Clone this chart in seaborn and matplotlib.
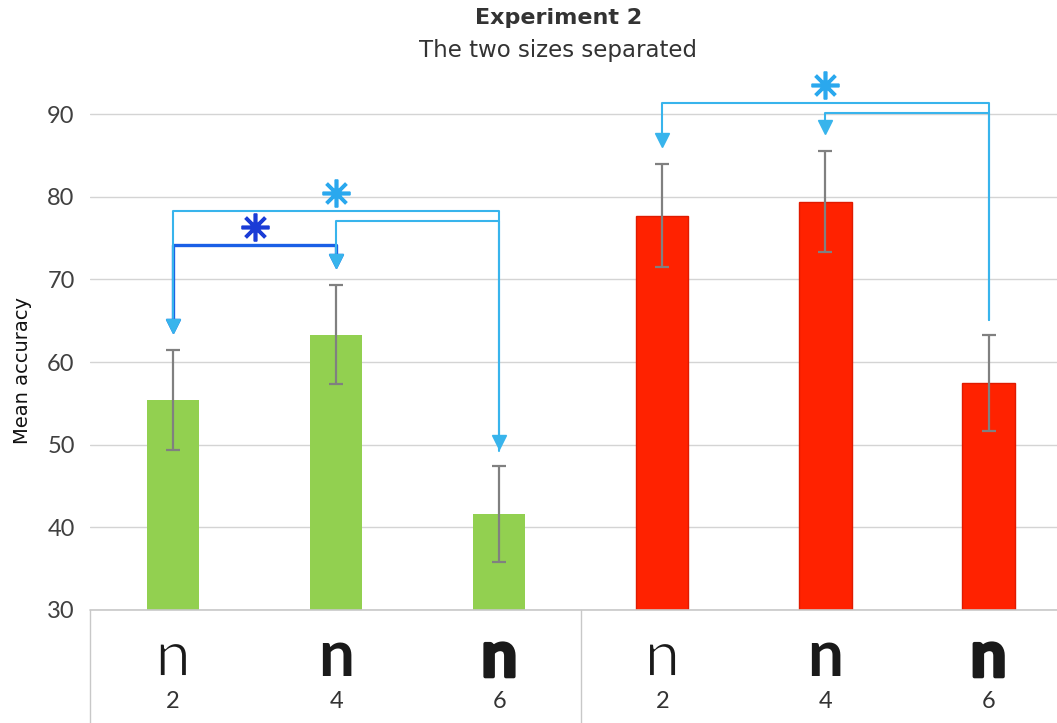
import numpy as np
import pandas as pd
import matplotlib
matplotlib.use("Agg")
import matplotlib.pyplot as plt
import matplotlib.transforms as mtransforms
import matplotlib.patheffects as pe
import seaborn as sns

# values
groups = ['green', 'green', 'green', 'red', 'red', 'red']
sizes = ['2', '4', '6', '2', '4', '6']
bar_keys = ['g2', 'g4', 'g6', 'r2', 'r4', 'r6']
mean_acc = [55.4, 63.3, 41.6, 77.7, 79.4, 57.5]
err_acc = [6.0, 6.0, 5.8, 6.2, 6.1, 5.8]
yticks = [30, 40, 50, 60, 70, 80, 90]
n_weights = ['normal', 'bold', 'bold', 'normal', 'bold', 'bold']
# >0 thickens the glyph, <0 thins it
n_stroke = [-1.4, 0, 2.6, -1.4, 0, 2.6]

# significance brackets: (from bar, to bar, line height, colour key, arrow at 'from', arrow at 'to')
brackets = [
    (0, 1, 74.2, 'dark', True, True),
    (0, 2, 78.3, 'light', True, True),
    (1, 2, 77.1, 'light', True, False),
    (3, 5, 91.3, 'light', True, False),
    (4, 5, 90.1, 'light', True, False),
]
# asterisks: (x position in bar units, height, colour key)
stars = [(0.5, 76.3, 'dark'), (1.0, 80.4, 'light'), (4.0, 93.5, 'light')]

palette = {'green': '#92d050', 'red': '#ff2200'}
line_col = {'dark': '#1a5fe6', 'light': '#38b4ec'}
star_col = {'dark': '#1a3cd6', 'light': '#2aa8ee'}

df = pd.DataFrame({'bar': bar_keys, 'group': groups, 'acc': mean_acc})

sns.set_theme(style='white')
plt.rcParams['font.family'] = ['DejaVu Sans']

fig = plt.figure(figsize=(10.57, 7.23), dpi=100)
ax = fig.add_axes([90 / 1057, 1 - 610 / 723, 1 - 90 / 1057, (610 - 72.7) / 723])

sns.barplot(data=df, x='bar', y='acc', hue='group', palette=palette, order=bar_keys,
            width=0.32, dodge=False, legend=False, ax=ax, linewidth=0, saturation=1)
for patch, g in zip(ax.patches, groups):
    if g == 'red':
        patch.set_edgecolor('#e01a00')
        patch.set_linewidth(1)

xpos = np.arange(len(bar_keys))
ax.errorbar(xpos, mean_acc, yerr=err_acc, fmt='none', ecolor='#808080',
            elinewidth=1.6, capsize=5, capthick=1.6, zorder=3)

ax.set_xlim(-0.51, 5.42)
ax.set_ylim(30, 95)
ax.set_yticks(yticks)
ax.set_yticklabels([str(t) for t in yticks], fontsize=17, color='#404040', family='Lato')
ax.tick_params(axis='y', length=0, pad=11)
ax.grid(axis='y', color='#d4d4d4', lw=1)
ax.set_axisbelow(True)
ax.set_xticks([])
ax.set_xlabel('')
ax.set_ylabel('')
for s in ax.spines.values():
    s.set_visible(False)

# brackets with arrows
tips = [m + e + 2.0 for m, e in zip(mean_acc, err_acc)]
for a, b, h, c, arr_a, arr_b in brackets:
    col = line_col[c]
    lw = 2.4 if c == 'dark' else 1.5
    end_a = tips[a] + 0.6 if arr_a else tips[a]
    end_b = tips[b] + 0.6 if arr_b else tips[b] - 0.2
    ax.plot([a, a, b, b], [end_a, h, h, end_b], color=col, lw=lw, zorder=4,
            solid_joinstyle='round')
    if arr_a:
        ax.plot(a, tips[a] + 0.9, marker='v', ms=10, color=col, mec=col, zorder=5)
    if arr_b:
        ax.plot(b, tips[b] + 0.9, marker='v', ms=10, color=col, mec=col, zorder=5)

for sx, sy, c in stars:
    ax.plot(sx, sy, marker=(8, 2, 0), ms=20, mew=2.6, color=star_col[c],
            zorder=6, clip_on=False)

# bottom table with letters and sizes
trans = mtransforms.blended_transform_factory(ax.transData, fig.transFigure)
for i in range(len(bar_keys)):
    t = ax.text(xpos[i], 1 - 658 / 723, 'n', transform=trans, ha='center', va='center',
                fontsize=46, fontweight=n_weights[i], family='Lato', color='#1a1a1a')
    if n_stroke[i] > 0:
        t.set_path_effects([pe.withStroke(linewidth=n_stroke[i], foreground='#1a1a1a')])
    elif n_stroke[i] < 0:
        t.set_path_effects([pe.Normal(), pe.Stroke(linewidth=-n_stroke[i], foreground='white')])
    ax.text(xpos[i], 1 - 701 / 723, sizes[i], transform=trans, ha='center', va='center',
            fontsize=17, family='Lato', color='#333333')

box_col = '#c8c8c8'
ax.axhline(30, color=box_col, lw=1.2, clip_on=False, zorder=1)
for xv in [-0.51, 2.5]:
    ax.plot([xv, xv], [0, -0.3], transform=mtransforms.blended_transform_factory(ax.transData, ax.transAxes),
            color=box_col, lw=1, clip_on=False)

fig.text(0.528, 1 - 18 / 723, 'Experiment 2', ha='center', va='center', fontsize=16,
         fontweight='bold', color='#333333')
fig.text(0.528, 1 - 50 / 723, 'The two sizes separated', ha='center', va='center', fontsize=16.5,
         color='#333333')
fig.text(22 / 1057, 1 - 371 / 723, 'Mean accuracy', rotation=90, ha='center', va='center',
         fontsize=14, color='#111111')

fig.savefig('out.png', dpi=100)
